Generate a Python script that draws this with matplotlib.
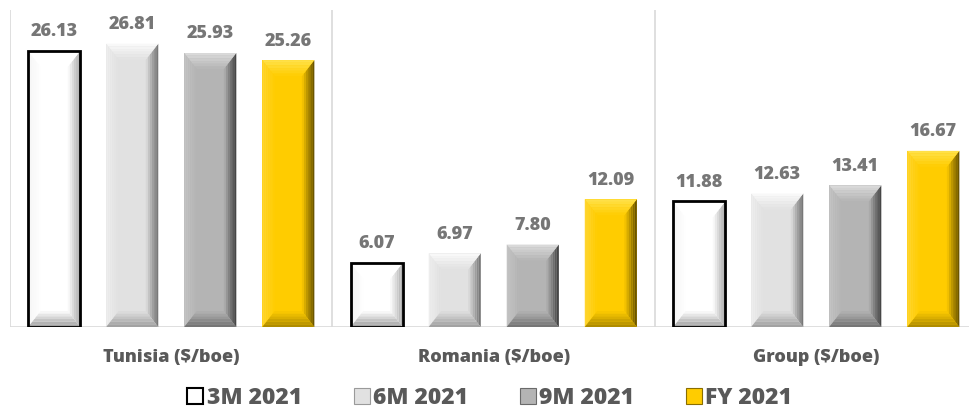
import numpy as np
import matplotlib
matplotlib.use("Agg")
import matplotlib.pyplot as plt
from matplotlib.patches import Polygon, Patch
from matplotlib.colors import to_rgb

plt.rcParams['font.family'] = ['Open Sans', 'DejaVu Sans']

groups = ['Tunisia ($/boe)', 'Romania ($/boe)', 'Group ($/boe)']
series = ['3M 2021', '6M 2021', '9M 2021', 'FY 2021']
m3 = [26.13, 6.07, 11.88]
m6 = [26.81, 6.97, 12.63]
m9 = [25.93, 7.80, 13.41]
fy = [25.26, 12.09, 16.67]
values = [m3, m6, m9, fy]

# face, top (outer), left (outer), right (outer), bottom (outer)
styles = [
    ('#FFFFFF', '#FFFFFF', '#F4F4F4', '#A8A8A8', '#9A9A9A'),
    ('#E1E1E1', '#FAFAFA', '#EEEEEE', '#6E6E6E', '#9C9C9C'),
    ('#B4B4B4', '#DCDCDC', '#C4C4C4', '#3C3C3C', '#707070'),
    ('#FFCC00', '#FFE24D', '#FFD633', '#5E4A00', '#A88600'),
]

def mix(c1, c2, t):
    a = np.array(to_rgb(c1)); b = np.array(to_rgb(c2))
    return tuple(a + (b - a) * t)

def bevel(ax, bar, sty, ppu):
    x0 = bar.get_x(); w = bar.get_width(); h = bar.get_height()
    x1 = x0 + w
    dx = w * 0.24
    dy = min(16 / ppu, h * 0.3)
    face, ctop, cleft, cright, cbot = sty
    n = 6
    for i in range(n):
        ta, tb = i / n, (i + 1) / n
        tm = (ta + tb) / 2
        # right side (inner -> outer)
        xa, xb = x1 - dx + dx * ta, x1 - dx + dx * tb
        ax.add_patch(Polygon([(xa, dy * (1 - ta)), (xb, dy * (1 - tb)),
                              (xb, h - dy * (1 - tb)), (xa, h - dy * (1 - ta))],
                             closed=True, fc=mix(face, cright, tm), ec='none', zorder=3))
        # left side
        xa, xb = x0 + dx - dx * ta, x0 + dx - dx * tb
        ax.add_patch(Polygon([(xa, dy * (1 - ta)), (xb, dy * (1 - tb)),
                              (xb, h - dy * (1 - tb)), (xa, h - dy * (1 - ta))],
                             closed=True, fc=mix(face, cleft, tm), ec='none', zorder=3))
        # top
        ya, yb = h - dy + dy * ta, h - dy + dy * tb
        ax.add_patch(Polygon([(x0 + dx * (1 - ta), ya), (x1 - dx * (1 - ta), ya),
                              (x1 - dx * (1 - tb), yb), (x0 + dx * (1 - tb), yb)],
                             closed=True, fc=mix(face, ctop, tm), ec='none', zorder=3))
        # bottom
        ya, yb = dy - dy * ta, dy - dy * tb
        ax.add_patch(Polygon([(x0 + dx * (1 - ta), ya), (x1 - dx * (1 - ta), ya),
                              (x1 - dx * (1 - tb), yb), (x0 + dx * (1 - tb), yb)],
                             closed=True, fc=mix(face, cbot, tm), ec='none', zorder=3))

fig = plt.figure(figsize=(9.7, 4.09), dpi=100)
ax = fig.add_axes([10 / 970, 82 / 409, 960 / 970, 317 / 409])
ymax = 30
ax.set_ylim(0, ymax)
ax.set_xlim(-0.5, -0.5 + 960 / 322.5)
ppu = 317 / ymax

x = np.arange(len(groups))
step = 0.242
width = 0.1615
for k, vals in enumerate(values):
    pos = x + (k - 1.5) * step
    bars = ax.bar(pos, vals, width, color=styles[k][0], edgecolor='none', zorder=2)
    for b, v in zip(bars, vals):
        bevel(ax, b, styles[k], ppu)
        ax.text(b.get_x() + b.get_width() / 2, v + 1.0, f'{v:.2f}', ha='center', va='bottom',
                fontsize=13, fontweight='heavy', color='#767676')
    if k == 0:
        ax.bar(pos, vals, width, fill=False, edgecolor='black', linewidth=2, zorder=4)

for s in ax.spines.values():
    s.set_visible(False)
ax.axhline(0, color='#D9D9D9', lw=1.2, zorder=1)
for xv in [-0.5, 0.5, 1.5]:
    ax.axvline(xv, color='#D9D9D9', lw=1.2, zorder=1)

ax.set_yticks([])
ax.set_xticks(x)
ax.set_xticklabels(groups, fontsize=13, fontweight='heavy', color='#595959')
ax.tick_params(axis='x', length=0, pad=16)

handles = [Patch(facecolor=styles[0][0], edgecolor='black', linewidth=1.5),
           Patch(facecolor=styles[1][0], edgecolor='#9A9A9A', linewidth=0.8),
           Patch(facecolor=styles[2][0], edgecolor='#6A6A6A', linewidth=0.8),
           Patch(facecolor=styles[3][0], edgecolor='#8A6E00', linewidth=0.8)]
leg = fig.legend(handles, series, loc='center', bbox_to_anchor=(0.505, 0.026), ncol=4,
                 frameon=False, handlelength=0.7, handleheight=0.7, handletextpad=0.15,
                 columnspacing=2.25, prop={'size': 16.5, 'weight': 'heavy'})
for t in leg.get_texts():
    t.set_color('#595959')

fig.savefig('out.png', dpi=100)
